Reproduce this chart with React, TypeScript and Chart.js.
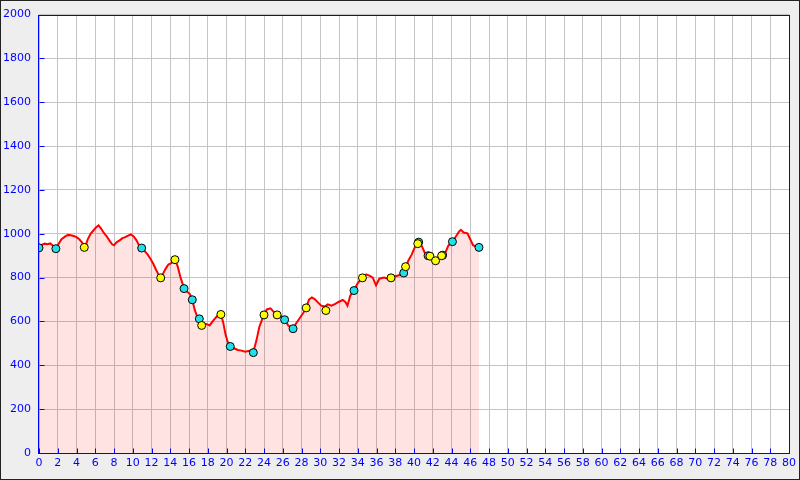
import React, { useEffect, useRef } from "react";
import { Chart, registerables } from "chart.js";

Chart.register(...registerables);

// Elevation profile track (distance km, elevation m)
const trackDist = [
  0, 0.3, 0.6, 0.9, 1.2, 1.5, 1.8, 2.1, 2.4, 2.8, 3.1, 3.4, 3.7, 4.0, 4.3, 4.6, 4.83, 5.0, 5.2, 5.5,
  5.8, 6.1, 6.35, 6.6, 6.9, 7.2, 7.5, 7.8, 8.0, 8.3, 8.6, 8.9, 9.2, 9.5, 9.8, 10.1, 10.4, 10.7, 10.95, 11.3,
  11.6, 11.9, 12.2, 12.5, 12.8, 12.98, 13.2, 13.5, 13.8, 14.1, 14.5, 14.8, 15.1, 15.47, 15.8, 16.1, 16.35, 16.6, 16.85, 17.1,
  17.3, 17.6, 17.9, 18.2, 18.6, 19.0, 19.4, 19.65, 19.9, 20.1, 20.4, 20.8, 21.2, 21.6, 22.0, 22.4, 22.86, 23.2, 23.5, 23.8,
  24.0, 24.3, 24.7, 25.0, 25.4, 25.8, 26.2, 26.6, 27.1, 27.4, 27.8, 28.2, 28.5, 28.8, 29.1, 29.4, 29.8, 30.1, 30.5, 30.8,
  31.2, 31.6, 32.0, 32.4, 32.7, 32.9, 33.2, 33.6, 34.0, 34.5, 34.9, 35.3, 35.6, 35.95, 36.3, 36.8, 37.2, 37.55, 38.0, 38.5,
  38.9, 39.1, 39.4, 39.75, 40.1, 40.4, 40.6, 40.9, 41.2, 41.5, 41.9, 42.3, 42.6, 42.95, 43.3, 43.65, 44.1, 44.5, 44.8, 45.0,
  45.3, 45.7, 46.0, 46.3, 46.6, 46.93,
];
const trackElev = [
  936, 950, 955, 952, 956, 945, 932, 955, 975, 988, 995, 993, 990, 985, 975, 960, 942, 950, 975, 1000,
  1015, 1030, 1038, 1025, 1005, 990, 970, 952, 948, 962, 970, 980, 985, 992, 997, 988, 970, 945, 935, 920,
  905, 885, 862, 835, 810, 800, 815, 840, 860, 866, 882, 850, 800, 752, 735, 725, 699, 655, 625, 612,
  592, 590, 588, 582, 605, 625, 633, 595, 540, 510, 486, 478, 470, 467, 462, 466, 460, 515, 575, 610,
  630, 655, 660, 645, 630, 625, 610, 580, 568, 590, 615, 640, 662, 700, 710, 702, 685, 672, 668, 678,
  672, 680, 690, 698, 688, 672, 718, 742, 775, 800, 815, 808, 800, 765, 795, 800, 795, 800, 806, 812,
  822, 848, 878, 905, 940, 958, 962, 938, 908, 900, 893, 878, 895, 900, 910, 945, 965, 990, 1010, 1018,
  1006, 1002, 975, 948, 942, 938,
];

// Waypoint markers
const cyanDist = [0, 1.8, 10.95, 15.47, 16.35, 17.1, 20.4, 22.86, 26.2, 27.1, 33.6, 38.9, 40.5, 41.5, 43.05, 44.1, 46.93];
const cyanElev = [936, 932, 935, 750, 699, 612, 486, 458, 608, 567, 741, 821, 962, 900, 902, 964, 938];
const yellowDist = [4.83, 12.98, 14.5, 17.35, 19.4, 24.0, 25.4, 28.5, 30.6, 34.5, 37.55, 39.1, 40.4, 41.7, 42.3, 42.95];
const yellowElev = [938, 799, 882, 582, 632, 630, 630, 662, 650, 799, 799, 850, 955, 898, 877, 900];

const xMin = 0;
const xMax = 80;
const xStep = 2;
const yMin = 0;
const yMax = 2000;
const yStep = 200;

const AXIS_BLUE = "#0000ff";

const framePlugin = {
  id: "frame",
  beforeDraw(chart: any) {
    const { ctx, width, height, chartArea } = chart;
    ctx.save();
    ctx.fillStyle = "#eeeeee";
    ctx.fillRect(0, 0, width, height);
    ctx.fillStyle = "#ffffff";
    ctx.fillRect(chartArea.left, chartArea.top, chartArea.right - chartArea.left, chartArea.bottom - chartArea.top);
    ctx.strokeStyle = "#222222";
    ctx.lineWidth = 1;
    ctx.strokeRect(0.5, 0.5, width - 1, height - 1);
    ctx.restore();
  },
  afterDraw(chart: any) {
    const { ctx, chartArea, scales } = chart;
    const l = Math.round(chartArea.left) + 0.5;
    const r = Math.round(chartArea.right) + 0.5;
    const t = Math.round(chartArea.top) + 0.5;
    const b = Math.round(chartArea.bottom) + 0.5;
    ctx.save();
    ctx.strokeStyle = AXIS_BLUE;
    ctx.lineWidth = 1;
    ctx.beginPath();
    scales.y.ticks.forEach((tk: any) => {
      const py = Math.round(scales.y.getPixelForValue(tk.value)) + 0.5;
      ctx.moveTo(l, py);
      ctx.lineTo(l + 5, py);
    });
    scales.x.ticks.forEach((tk: any) => {
      const px = Math.round(scales.x.getPixelForValue(tk.value)) + 0.5;
      ctx.moveTo(px, b);
      ctx.lineTo(px, b - 5);
    });
    ctx.stroke();
    ctx.strokeRect(l - 1, t, r - l + 1, b - t);
    ctx.restore();
  },
};

export default function App() {
  const ref = useRef<HTMLCanvasElement>(null);
  useEffect(() => {
    if (!ref.current) return;
    const track = trackDist.map((d, i) => ({ x: d, y: trackElev[i] }));
    const cyan = cyanDist.map((d, i) => ({ x: d, y: cyanElev[i] }));
    const yellow = yellowDist.map((d, i) => ({ x: d, y: yellowElev[i] }));
    const chart = new Chart(ref.current, {
      type: "scatter",
      data: {
        datasets: [
          {
            data: track,
            showLine: true,
            borderColor: "#ff0000",
            borderWidth: 2,
            backgroundColor: "rgba(255,0,0,0.11)",
            fill: "origin",
            pointRadius: 0,
            tension: 0,
            order: 3,
          } as any,
          {
            data: cyan,
            showLine: false,
            pointRadius: 4,
            pointBackgroundColor: "#22e0e8",
            pointBorderColor: "#000000",
            pointBorderWidth: 1,
            order: 2,
          },
          {
            data: yellow,
            showLine: false,
            pointRadius: 4,
            pointBackgroundColor: "#ffff00",
            pointBorderColor: "#000000",
            pointBorderWidth: 1,
            order: 1,
          },
        ],
      },
      options: {
        responsive: false,
        animation: false,
        devicePixelRatio: 1,
        layout: { padding: { left: 0, right: 11, top: 13, bottom: 0 } },
        plugins: { legend: { display: false }, tooltip: { enabled: false } },
        scales: {
          x: {
            type: "linear",
            min: xMin,
            max: xMax,
            afterFit: (s: any) => {
              s.height = 27;
            },
            border: { display: false },
            grid: { color: "#c4c4c4", drawTicks: false, lineWidth: 1 },
            ticks: {
              stepSize: xStep,
              autoSkip: false,
              maxRotation: 0,
              padding: 4,
              color: AXIS_BLUE,
              font: { family: "DejaVu Sans", size: 11 },
              callback: (v: any) => String(v),
            },
          },
          y: {
            type: "linear",
            min: yMin,
            max: yMax,
            afterFit: (s: any) => {
              s.width = 39;
            },
            border: { display: false },
            grid: { color: "#c4c4c4", drawTicks: false, lineWidth: 1 },
            ticks: {
              stepSize: yStep,
              padding: 8,
              color: AXIS_BLUE,
              font: { family: "DejaVu Sans", size: 11 },
              callback: (v: any) => String(v),
            },
          },
        },
      },
      plugins: [framePlugin],
    });
    return () => chart.destroy();
  }, []);
  return (
    <div style={{ position: "absolute", left: 0, top: 0, width: 800, height: 480 }}>
      <canvas ref={ref} width={800} height={480} />
    </div>
  );
}
